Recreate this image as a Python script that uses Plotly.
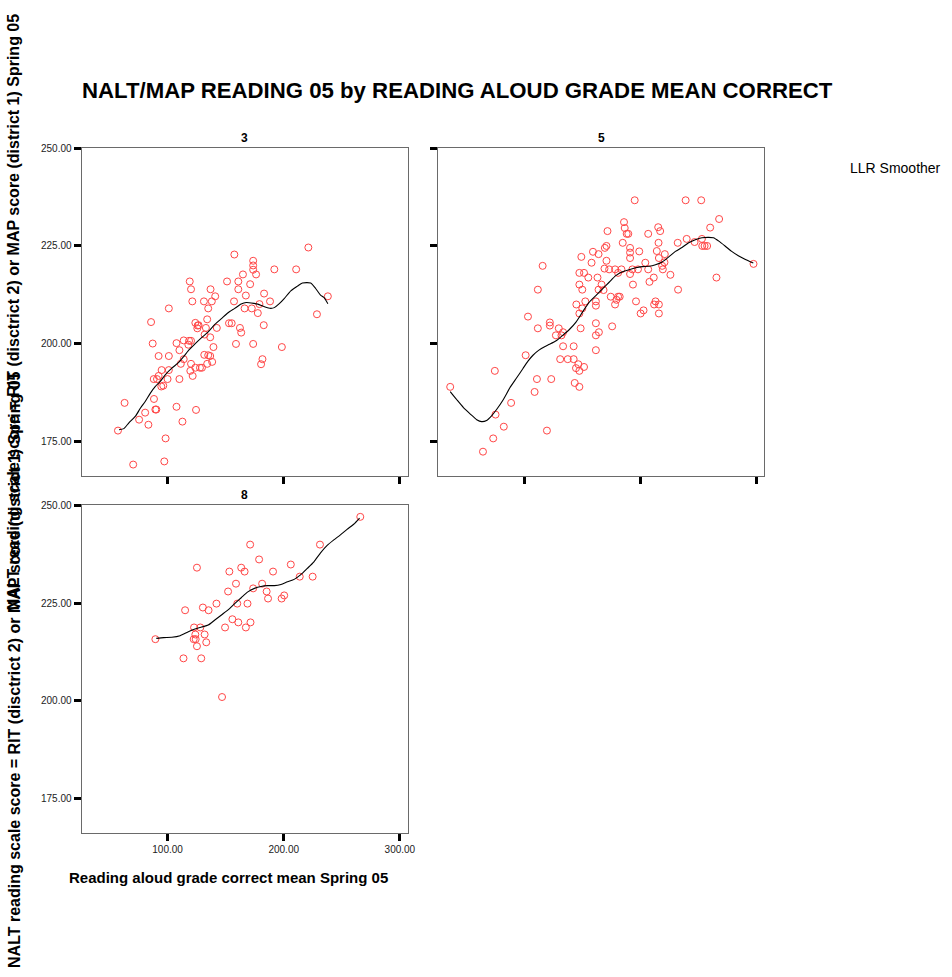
import plotly.graph_objects as go

W, H = 952, 977

# ---- Grade 3 ----
grade3_x = [57.3, 63.0, 70.4, 75.5, 80.7, 83.5, 85.8, 87.2, 88.1, 88.3, 89.5, 90.3, 90.9, 92.3, 92.3,
            94.6, 94.9, 96.3, 97.2, 98.3, 100.0, 101.1, 101.1, 101.1, 107.7, 107.7, 110.2, 110.2, 111.4,
            112.8, 113.9, 113.9, 117.9, 118.5, 119.1, 120.2, 120.2, 120.2, 119.6, 121.3, 121.6, 123.9,
            123.9, 124.5, 125.6, 125.9, 126.7, 127.9, 129.6, 131.3, 131.6, 131.9, 133.0, 134.1, 134.1,
            135.0, 135.0, 136.7, 136.7, 137.0, 138.1, 138.4, 139.5, 141.0, 142.4, 151.2, 152.9, 155.2,
            157.2, 157.5, 158.9, 160.9, 160.9, 162.3, 163.4, 164.9, 166.3, 167.4, 171.1, 172.5, 173.7,
            173.7, 173.7, 173.7, 176.2, 177.7, 179.1, 180.5, 181.7, 182.8, 183.1, 188.2, 191.9, 198.4,
            210.7, 221.2, 228.6, 238.0]
grade3_y = [177.7, 184.8, 169.0, 180.5, 182.3, 179.2, 205.5, 200.0, 190.9, 185.8, 183.1, 183.1, 190.9,
            191.7, 196.8, 189.0, 193.2, 189.2, 169.8, 175.7, 190.9, 209.0, 196.8, 193.2, 200.1, 183.8,
            198.3, 190.9, 194.8, 180.0, 200.8, 196.0, 199.7, 200.7, 215.9, 213.9, 200.7, 194.8, 193.0,
            210.8, 191.7, 205.3, 193.8, 183.0, 203.9, 204.6, 204.7, 193.8, 193.8, 210.8, 197.1, 202.3,
            204.0, 206.2, 194.8, 197.0, 209.0, 201.6, 196.8, 213.9, 210.8, 195.3, 199.1, 212.1, 204.0,
            215.9, 205.2, 205.2, 210.8, 222.8, 199.9, 213.9, 215.9, 204.0, 202.8, 217.7, 209.0, 212.3,
            215.2, 209.0, 221.2, 220.0, 218.9, 199.9, 217.7, 207.8, 210.1, 194.7, 196.0, 204.7, 212.8,
            210.8, 219.0, 199.1, 219.0, 224.6, 207.5, 212.1]
smooth3_x = [58.2, 62.4, 66.7, 72.4, 76.7, 80.9, 85.2, 89.5, 93.7, 98.0, 103.7, 109.4, 113.7, 117.9,
             123.6, 129.3, 135.0, 140.7, 146.4, 152.1, 157.8, 163.4, 167.7, 172.0, 177.7, 183.4, 189.0,
             191.9, 196.2, 200.4, 206.1, 211.8, 216.1, 223.2, 227.5, 231.7, 234.6, 238.0]
smooth3_y = [177.9, 178.2, 179.7, 181.4, 183.5, 185.2, 187.3, 189.0, 190.3, 192.0, 193.7, 195.1, 196.6,
             198.2, 199.9, 201.5, 203.0, 204.9, 206.4, 207.9, 209.0, 210.1, 210.5, 210.4, 210.1, 209.4,
             209.0, 209.2, 210.2, 211.5, 213.5, 214.7, 215.5, 215.5, 214.1, 212.4, 211.8, 210.2]

# ---- Grade 5 ----
grade5_x = [36.5, 64.7, 73.5, 75.5, 74.9, 82.6, 88.9, 101.4, 103.4, 109.1, 111.1, 111.9, 111.9, 116.0,
            119.7, 122.2, 122.2, 123.4, 127.4, 129.9, 132.2, 133.6, 133.6, 131.1, 137.6, 142.7, 142.7,
            143.6, 144.7, 146.7, 147.6, 147.6, 151.6, 145.0, 147.6, 147.6, 147.6, 149.3, 150.1, 150.1,
            151.6, 152.7, 148.7, 155.3, 158.1, 159.3, 161.8, 161.8, 161.8, 161.8, 161.8, 163.2, 164.1,
            164.1, 164.4, 166.7, 168.4, 169.2, 169.5, 170.9, 170.9, 171.8, 173.2, 174.6, 175.8, 178.3,
            178.3, 179.5, 180.9, 182.3, 180.9, 183.8, 184.9, 186.0, 186.6, 188.3, 189.7, 191.2, 191.2,
            191.2, 191.2, 193.2, 193.7, 195.2, 196.3, 198.0, 199.1, 200.3, 202.8, 204.3, 206.8, 206.8,
            207.9, 211.6, 211.9, 213.1, 214.2, 215.4, 215.7, 216.0, 216.0, 216.0, 217.1, 218.8, 219.4,
            220.8, 221.1, 225.9, 232.2, 232.5, 239.0, 239.9, 246.7, 252.4, 253.0, 253.3, 255.3, 257.5,
            260.1, 265.5, 267.8, 297.4]
grade5_y = [188.9, 172.3, 175.7, 181.8, 193.0, 178.7, 184.8, 197.0, 206.9, 187.6, 190.9, 203.9, 213.8,
            219.9, 177.7, 205.4, 204.6, 190.9, 202.1, 203.9, 202.1, 202.9, 199.3, 196.0, 196.0, 199.3,
            196.0, 189.9, 193.7, 194.7, 193.0, 188.9, 194.0, 210.0, 207.7, 215.1, 218.1, 222.2, 213.8,
            209.0, 218.1, 210.8, 203.9, 216.9, 220.7, 223.5, 210.8, 209.7, 205.2, 202.1, 198.3, 216.9,
            222.9, 213.8, 202.9, 215.1, 213.7, 219.2, 224.5, 225.0, 221.2, 228.8, 219.0, 212.0, 204.4,
            219.0, 210.0, 211.2, 212.0, 212.0, 218.1, 219.0, 225.8, 231.1, 229.6, 228.1, 228.1, 224.5,
            223.3, 221.9, 217.8, 219.0, 215.1, 236.7, 210.8, 219.0, 223.6, 207.7, 208.5, 220.7, 228.1,
            219.0, 215.8, 216.9, 210.0, 210.8, 223.7, 229.8, 225.8, 221.9, 210.0, 207.7, 228.8, 219.9,
            219.0, 220.8, 222.9, 217.6, 225.8, 213.8, 236.7, 226.8, 226.0, 236.7, 226.8, 225.0, 225.0,
            225.0, 229.7, 216.9, 231.9, 220.4]
smooth5_x = [36.5, 42.2, 47.9, 53.6, 59.3, 63.5, 67.8, 72.1, 76.4, 82.1, 87.7, 93.4, 99.1, 103.4, 107.7,
             112.8, 117.7, 121.9, 127.6, 133.3, 139.0, 144.7, 150.4, 156.1, 161.8, 167.5, 173.2, 178.9,
             184.6, 190.3, 196.0, 201.7, 207.4, 213.1, 218.8, 224.5, 230.2, 235.9, 241.6, 247.3, 253.0,
             258.7, 263.0, 267.2, 272.9, 278.6, 284.3, 290.0, 297.2]
smooth5_y = [187.7, 185.6, 183.6, 182.0, 180.5, 180.0, 180.3, 181.5, 183.1, 185.6, 188.6, 191.1, 193.6,
             195.5, 197.0, 198.3, 199.2, 199.8, 200.7, 202.1, 203.6, 205.5, 208.1, 210.6, 212.3, 214.0,
             215.7, 217.4, 218.4, 218.9, 219.4, 219.7, 219.8, 220.2, 220.9, 222.2, 223.6, 224.6, 225.8,
             226.6, 227.1, 227.2, 227.1, 226.3, 225.0, 223.6, 222.5, 221.6, 220.6]

# ---- Grade 8 ----
grade8_x = [89.5, 113.7, 115.1, 122.8, 123.9, 122.5, 124.2, 125.3, 125.3, 128.2, 129.0, 130.4, 131.9,
            133.3, 135.3, 142.1, 146.9, 149.5, 152.1, 153.2, 155.8, 158.9, 160.0, 160.9, 163.4, 166.3,
            167.4, 168.8, 171.1, 171.4, 173.7, 178.8, 181.4, 185.3, 186.5, 190.8, 198.2, 200.4, 206.1,
            213.8, 224.9, 231.2, 265.9]
grade8_y = [215.8, 210.9, 223.2, 218.8, 217.0, 215.8, 215.8, 214.0, 234.1, 218.8, 210.9, 223.9, 217.0,
            215.0, 223.2, 224.9, 201.0, 218.8, 228.0, 233.1, 220.9, 230.0, 224.9, 220.1, 234.1, 233.1,
            218.8, 224.9, 240.0, 220.1, 228.8, 236.2, 230.0, 228.0, 226.2, 233.1, 226.2, 227.0, 234.9,
            231.8, 231.8, 240.0, 247.1]
smooth8_x = [90.3, 96.6, 103.7, 110.8, 117.9, 123.6, 129.3, 135.0, 140.7, 146.4, 152.1, 157.8, 163.4,
             169.1, 174.8, 180.5, 186.2, 191.9, 197.6, 203.3, 209.0, 214.7, 220.3, 226.0, 231.7, 237.4,
             243.1, 248.8, 254.5, 260.2, 265.3]
smooth8_y = [216.0, 216.2, 216.3, 216.7, 217.7, 218.4, 218.9, 219.4, 220.7, 222.0, 223.3, 224.9, 226.4,
             227.9, 228.8, 229.3, 229.5, 229.5, 229.8, 230.5, 231.1, 232.3, 233.9, 235.6, 237.9, 239.8,
             241.2, 242.5, 243.9, 245.2, 246.8]

x_ticks = [100, 200, 300]
x_tick_text = ["100.00", "200.00", "300.00"]
y_ticks = [175, 200, 225, 250]
y_tick_text = ["175.00", "200.00", "225.00", "250.00"]

title_text = "NALT/MAP READING 05 by READING ALOUD GRADE MEAN CORRECT"
x_title = "Reading aloud grade correct mean Spring 05"
y_title = "NALT reading scale score = RIT (disctrict 2) or MAP score (district 1) Spring 05"
legend_label = "LLR Smoother"

FONT = "Liberation Sans, Arial, sans-serif"
POINT_COLOR = "rgb(255,70,70)"


def fx(p):
    return p / W


def fy(p):
    return 1 - p / H


# pixel boxes of the three panels: (left, right, top, bottom)
panels = [
    ("3", "x", "y", (82.3, 411.0, 143.3, 473.3), grade3_x, grade3_y, smooth3_x, smooth3_y, True, False),
    ("5", "x2", "y2", (441.7, 770.7, 143.3, 473.3), grade5_x, grade5_y, smooth5_x, smooth5_y, False, False),
    ("8", "x3", "y3", (82.3, 411.0, 502.3, 832.7), grade8_x, grade8_y, smooth8_x, smooth8_y, True, True),
]

fig = go.Figure()
annotations = []
layout_axes = {}

for name, xa, ya, box, px_, py_, sx, sy, ylabels, xlabels in panels:
    left, right, top, bottom = box
    fig.add_trace(go.Scatter(
        x=px_, y=py_, xaxis=xa, yaxis=ya, mode="markers",
        marker=dict(symbol="circle-open", size=7, color=POINT_COLOR, line=dict(width=1, color=POINT_COLOR)),
        showlegend=False, hoverinfo="skip"))
    fig.add_trace(go.Scatter(
        x=sx, y=sy, xaxis=xa, yaxis=ya, mode="lines",
        line=dict(color="black", width=1.1, shape="spline", smoothing=0.6),
        showlegend=False, hoverinfo="skip"))

    xkey = "xaxis" if xa == "x" else "xaxis" + xa[1:]
    ykey = "yaxis" if ya == "y" else "yaxis" + ya[1:]
    layout_axes[xkey] = dict(
        domain=[fx(left), fx(right)], anchor=ya, range=[26.0, 306.6],
        tickvals=x_ticks, ticktext=x_tick_text, showticklabels=xlabels,
        ticks="outside", ticklen=7, tickwidth=3, tickcolor="black",
        showline=True, linecolor="#6a6a6a", linewidth=1, mirror=True,
        showgrid=False, zeroline=False,
        tickfont=dict(family=FONT, size=10, color="#222222"))
    layout_axes[ykey] = dict(
        domain=[fy(bottom), fy(top)], anchor=xa, range=[166.1, 250.2],
        tickvals=y_ticks, ticktext=y_tick_text, showticklabels=ylabels,
        ticks="outside", ticklen=7, tickwidth=3, tickcolor="black",
        showline=True, linecolor="#6a6a6a", linewidth=1, mirror=True,
        showgrid=False, zeroline=False,
        tickfont=dict(family=FONT, size=10, color="#222222"))

    # panel heading
    annotations.append(dict(
        text="<b>%s</b>" % name, x=fx((left + right) / 2), y=fy(top - 9.5),
        xref="paper", yref="paper", xanchor="center", yanchor="middle",
        showarrow=False, font=dict(family=FONT, size=12, color="black")))

# main title
annotations.append(dict(
    text="<b>%s</b>" % title_text, x=fx(461), y=fy(86), xref="paper", yref="paper",
    xanchor="center", yanchor="middle", showarrow=False,
    font=dict(family=FONT, size=22.2, color="black")))

# x-axis title
annotations.append(dict(
    text="<b>%s</b>" % x_title, x=fx(230), y=fy(877), xref="paper", yref="paper",
    xanchor="center", yanchor="middle", showarrow=False,
    font=dict(family=FONT, size=15, color="black")))

# y-axis title, one per panel row
for cy in (308, 667.5):
    annotations.append(dict(
        text="<b>%s</b>" % y_title, x=fx(14), y=fy(cy), xref="paper", yref="paper",
        xanchor="center", yanchor="middle", textangle=-90, showarrow=False,
        font=dict(family=FONT, size=16, color="black")))

# smoother legend label
annotations.append(dict(
    text=legend_label, x=fx(855), y=fy(164), xref="paper", yref="paper",
    xanchor="left", yanchor="middle", showarrow=False,
    font=dict(family=FONT, size=14, color="black")))

fig.update_layout(
    width=W, height=H,
    margin=dict(l=0, r=0, t=0, b=0),
    paper_bgcolor="white", plot_bgcolor="white",
    showlegend=False,
    annotations=annotations,
    **layout_axes)

fig.write_html("out.html")
